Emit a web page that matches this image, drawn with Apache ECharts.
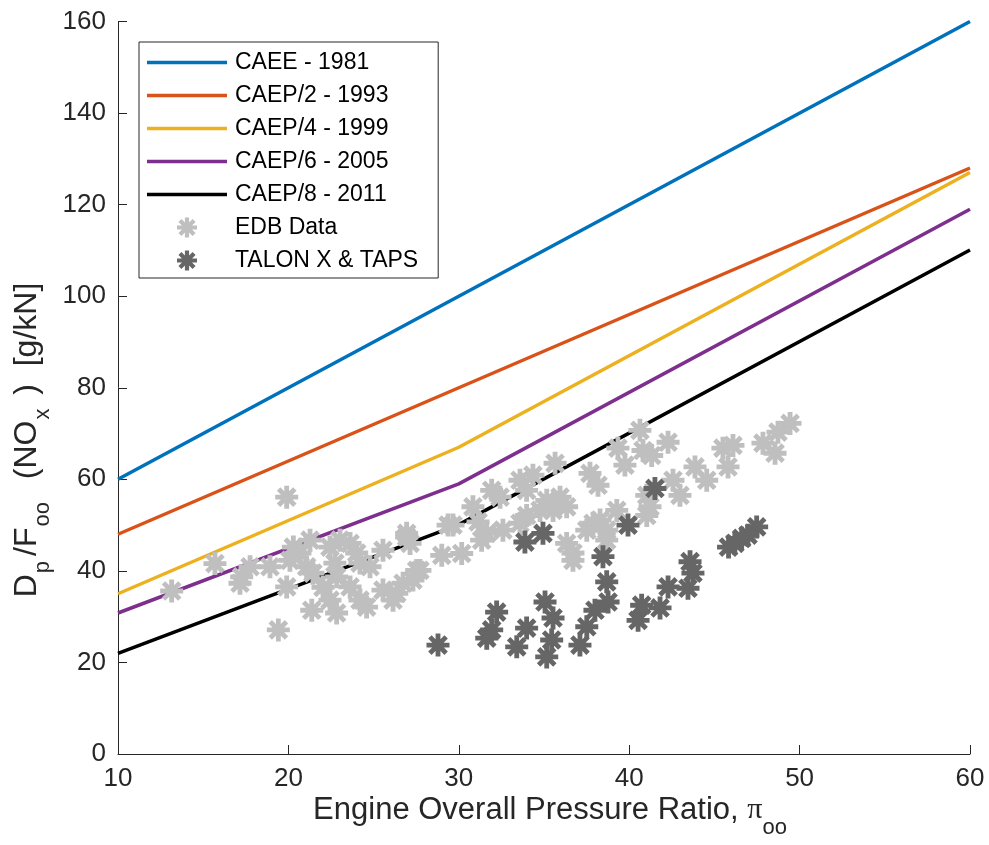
<!DOCTYPE html>
<html>
<head>
<meta charset="utf-8">
<title>NOx emission standards vs engine overall pressure ratio</title>
<script src="https://cdn.jsdelivr.net/npm/echarts@6/dist/echarts.min.js"></script>
<style>
  html, body { margin: 0; padding: 0; background: #ffffff; overflow: hidden; }
  #chart { width: 989px; height: 845px; }
</style>
</head>
<body>
<div id="chart"></div>
<script>
// Regulatory limit lines (OPR breakpoints and Dp/Foo limits in g/kN)
const lineOPR = [10, 30, 60];
const caee1981 = [60, 100, 160];
const caep2_1993 = [48, 80, 128];
const caep4_1999 = [35, 67, 127];
const caep6_2005 = [30.8, 59.0, 119.0];
const caep8_2011 = [22.0, 50.1, 110.1];

// ICAO emissions databank engines
const edbOPR = [13.15, 15.69, 19.90, 17.26, 17.75, 17.16, 18.92, 20.29, 20.09, 20.68,
  21.27, 21.07, 19.90, 19.41, 21.44, 22.03, 21.37, 22.44, 23.03, 23.62,
  22.73, 22.83, 22.83, 22.44, 23.62, 24.20, 24.20, 24.01, 24.79, 25.55,
  25.55, 26.36, 26.94, 27.14, 27.53, 27.31, 26.73, 29.00, 29.37, 27.72,
  30.17, 29.66, 30.83, 31.13, 31.34, 31.64, 31.93, 32.42, 32.59, 33.59,
  34.35, 33.98, 33.98, 33.59, 35.16, 35.94, 36.33, 35.53, 34.77, 35.65,
  36.33, 36.70, 37.51, 37.88, 38.29, 38.68, 39.27, 38.68, 37.70, 38.17,
  39.34, 39.75, 40.63, 40.81, 41.32, 42.28, 41.03, 41.22, 41.03, 42.57,
  42.98, 43.86, 44.55, 45.50, 46.09, 45.80, 47.85, 48.56, 48.73, 49.44,
  24.59, 26.14, 36.70, 26.94];
const edbNOx = [35.6, 41.6, 56.1, 38.7, 40.9, 37.3, 40.9, 45.2, 42.3, 43.9,
  46.7, 40.9, 36.5, 27.1, 39.5, 36.4, 31.4, 45.2, 46.7, 46.0,
  41.7, 38.7, 30.8, 33.6, 36.5, 41.7, 33.6, 43.9, 40.9, 44.5,
  35.8, 35.1, 48.2, 46.0, 40.1, 38.0, 37.3, 43.4, 50.0, 40.1,
  43.8, 50.0, 54.0, 50.7, 46.7, 48.2, 57.6, 56.1, 48.9, 59.8,
  60.9, 57.6, 52.1, 50.4, 55.4, 56.1, 54.0, 53.2, 53.2, 63.5,
  46.0, 43.9, 48.9, 50.4, 51.1, 48.9, 53.2, 46.7, 61.3, 58.7,
  66.8, 63.1, 70.7, 66.3, 65.2, 68.1, 56.5, 54.0, 52.1, 59.8,
  56.5, 62.7, 59.8, 66.8, 67.4, 62.7, 67.9, 65.7, 70.3, 72.2,
  32.1, 33.6, 42.3, 47.4];

// TALON X and TAPS combustor results
const talonOPR = [28.78, 32.22, 31.93, 31.64, 33.40, 33.98, 35.06, 35.53, 35.45, 35.16,
  37.11, 37.51, 37.99, 38.76, 38.68, 38.46, 33.88, 34.94, 39.93, 41.51,
  40.52, 40.73, 41.81, 42.28, 43.57, 43.74, 43.45, 45.83, 46.60, 47.48,
  46.97, 46.20];
const talonNOx = [23.8, 31.0, 27.1, 25.3, 23.4, 27.5, 33.2, 29.7, 24.9, 21.2,
  23.8, 27.8, 31.4, 33.2, 37.6, 43.1, 46.3, 48.2, 50.0, 58.0,
  29.2, 32.5, 31.9, 36.5, 42.0, 39.5, 36.2, 45.2, 47.1, 49.6,
  47.8, 46.0];

const xTicks = [10, 20, 30, 40, 50, 60];
const yTicks = [0, 20, 40, 60, 80, 100, 120, 140, 160];

const pairs = (xs, ys) => xs.map((x, i) => [x, ys[i]]);

// eight-spoke asterisk marker
const asterisk = 'path://' +
  'M-10 -2.1L10 -2.1L10 2.1L-10 2.1Z' +
  'M-2.1 -10L2.1 -10L2.1 10L-2.1 10Z' +
  'M-5.59 -8.56L8.56 5.59L5.59 8.56L-8.56 -5.59Z' +
  'M-8.56 5.59L5.59 -8.56L8.56 -5.59L-5.59 8.56Z';

// flat bar used as the legend key of the limit lines
const lineKey = 'path://M0 0L80 0L80 3.5L0 3.5Z';

const axisColor = '#262626';
const fontFamily = '"Liberation Sans", Arial, Helvetica, sans-serif';
const serifFamily = '"Liberation Serif", "DejaVu Serif", serif';

const chart = echarts.init(document.getElementById('chart'), null, { renderer: 'canvas' });

function limitLine(name, values, color) {
  return {
    name: name,
    type: 'line',
    data: pairs(lineOPR, values),
    symbol: 'none',
    symbolKeepAspect: true,
    lineStyle: { color: color, width: 3.5 },
    itemStyle: { color: color },
    z: 2
  };
}

const limitNames = ['CAEE - 1981', 'CAEP/2 - 1993', 'CAEP/4 - 1999', 'CAEP/6 - 2005', 'CAEP/8 - 2011'];

chart.setOption({
  animation: false,
  backgroundColor: '#ffffff',
  grid: { left: 118, right: 19, top: 21.5, bottom: 91, containLabel: false, outerBoundsMode: 'none' },
  legend: {
    orient: 'vertical',
    left: 139,
    top: 42,
    padding: [9, 20, 6, 8],
    itemWidth: 80,
    itemHeight: 20,
    itemGap: 10,
    backgroundColor: '#ffffff',
    borderColor: axisColor,
    borderWidth: 1,
    borderRadius: 0,
    textStyle: { fontFamily: fontFamily, fontSize: 23, color: '#000000', padding: [0, 0, 0, 3] },
    data: limitNames.map(n => ({ name: n, icon: lineKey })).concat(['EDB Data', 'TALON X & TAPS'])
  },
  xAxis: {
    type: 'value',
    min: xTicks[0],
    max: xTicks[xTicks.length - 1],
    interval: 10,
    axisLine: { show: true, onZero: false, lineStyle: { color: axisColor, width: 1 } },
    axisTick: { show: true, inside: true, length: 9, lineStyle: { color: axisColor } },
    splitLine: { show: false },
    axisLabel: { fontFamily: fontFamily, fontSize: 26, color: axisColor, margin: 12 }
  },
  yAxis: {
    type: 'value',
    min: yTicks[0],
    max: yTicks[yTicks.length - 1],
    interval: 20,
    axisLine: { show: true, onZero: false, lineStyle: { color: axisColor, width: 1 } },
    axisTick: { show: true, inside: true, length: 9, lineStyle: { color: axisColor } },
    splitLine: { show: false },
    axisLabel: { fontFamily: fontFamily, fontSize: 26, color: axisColor, margin: 12 }
  },
  graphic: [{
    // x-axis title
    type: 'text',
    x: 550,
    y: 810,
    style: {
      text: '{n|Engine Overall Pressure Ratio, }{p|π}{s|oo}',
      align: 'center',
      verticalAlign: 'middle',
      fill: axisColor,
      rich: {
        n: { fontFamily: fontFamily, fontSize: 31, fill: axisColor, lineHeight: 58, verticalAlign: 'middle' },
        p: { fontFamily: serifFamily, fontSize: 30, fill: axisColor, lineHeight: 58, verticalAlign: 'middle' },
        s: { fontFamily: fontFamily, fontSize: 22, fill: axisColor, lineHeight: 14, verticalAlign: 'bottom' }
      }
    }
  }, {
    // y-axis title
    type: 'text',
    x: 27,
    y: 440,
    rotation: Math.PI / 2,
    style: {
      text: '{n|D}{s|p}{n|/F}{s|oo}{n|  (NO}{s|x}{n| )  [g/kN]}',
      align: 'center',
      verticalAlign: 'middle',
      fill: axisColor,
      rich: {
        n: { fontFamily: fontFamily, fontSize: 32, fill: axisColor, lineHeight: 54, verticalAlign: 'middle' },
        s: { fontFamily: fontFamily, fontSize: 22, fill: axisColor, lineHeight: 14, verticalAlign: 'bottom', padding: [0, 5, 0, 1] }
      }
    }
  }],
  series: [
    limitLine(limitNames[0], caee1981, '#0072BD'),
    limitLine(limitNames[1], caep2_1993, '#D95319'),
    limitLine(limitNames[2], caep4_1999, '#EDB120'),
    limitLine(limitNames[3], caep6_2005, '#7E2F8E'),
    limitLine(limitNames[4], caep8_2011, '#000000'),
    {
      name: 'EDB Data',
      type: 'scatter',
      data: pairs(edbOPR, edbNOx),
      symbol: asterisk,
      symbolSize: 23,
      symbolKeepAspect: true,
      itemStyle: { color: '#bfbfbf', opacity: 1 },
      z: 3
    },
    {
      name: 'TALON X & TAPS',
      type: 'scatter',
      data: pairs(talonOPR, talonNOx),
      symbol: asterisk,
      symbolSize: 23,
      symbolKeepAspect: true,
      itemStyle: { color: '#666666', opacity: 1 },
      z: 4
    }
  ]
});
</script>
</body>
</html>
